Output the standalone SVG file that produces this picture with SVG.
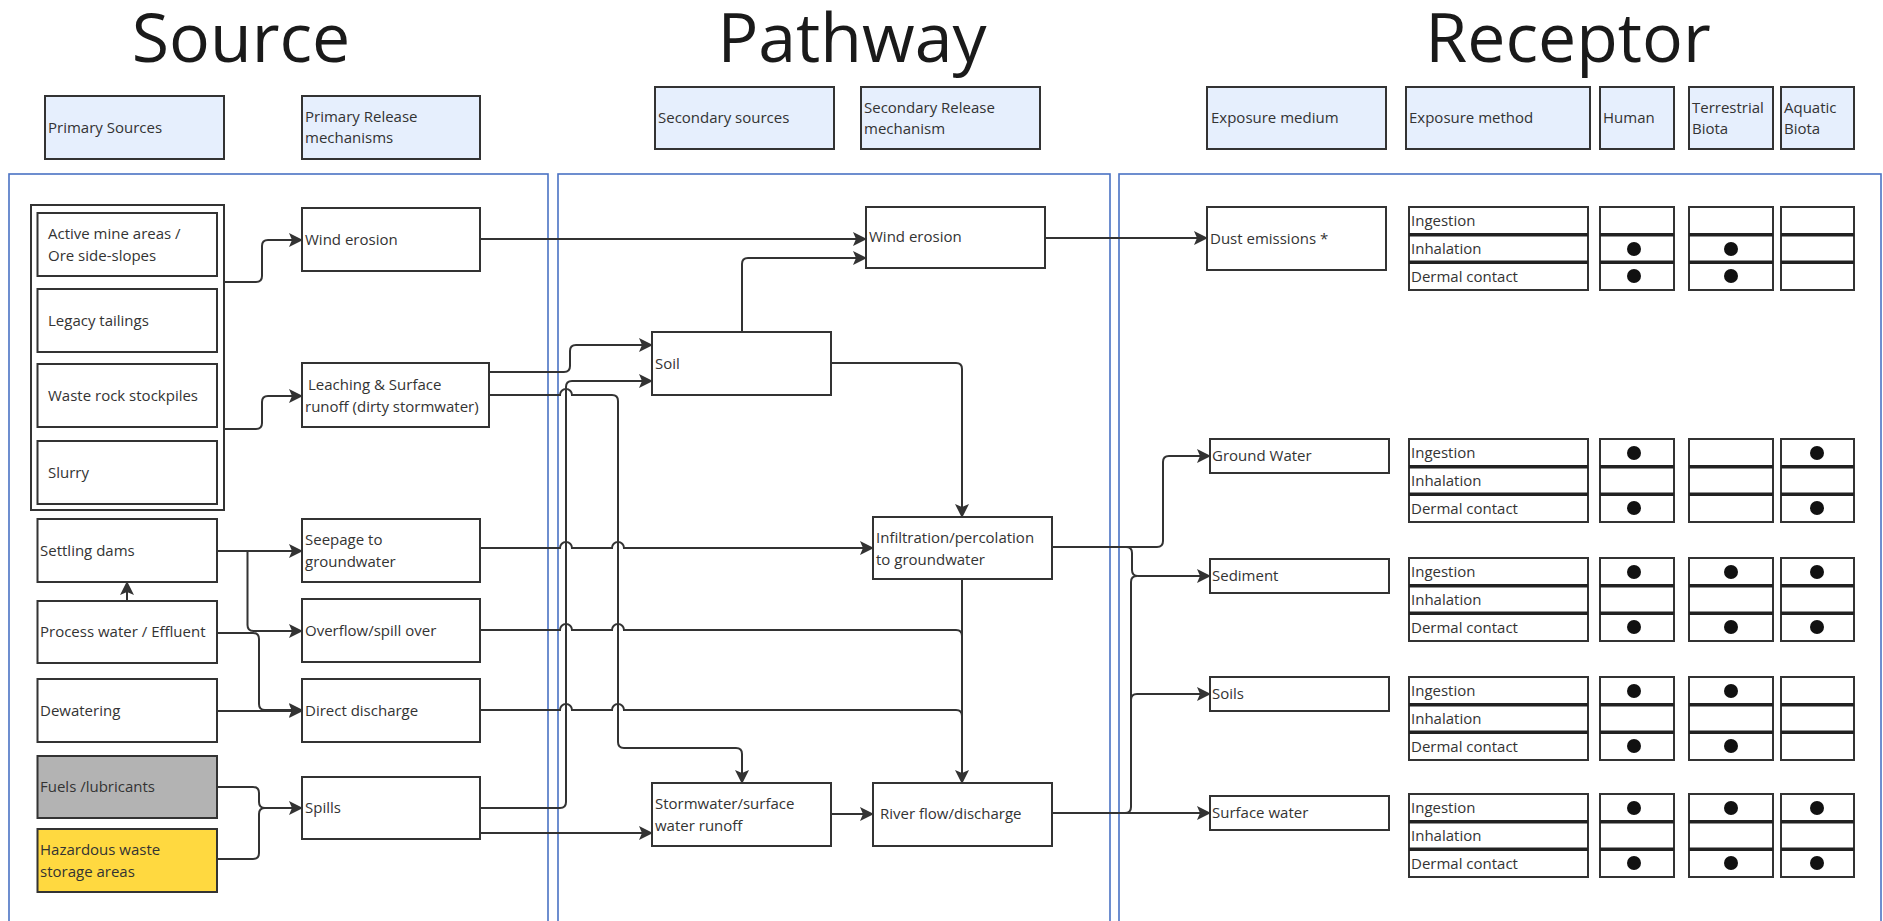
<svg xmlns="http://www.w3.org/2000/svg" width="1883" height="921" viewBox="0 0 1883 921">
<style>
.bg{fill:#ffffff}
.title{font-family:"Open Sans","Noto Sans",sans-serif;font-size:68px;fill:#1a1a1a;text-anchor:middle}
.t{font-family:"Open Sans","Noto Sans",sans-serif;font-size:15px;fill:#333333}
.box{fill:#ffffff;stroke:#333333;stroke-width:2}
.hdr{fill:#e6effd;stroke:#333333;stroke-width:2}
.cont{fill:none;stroke:#4a72c4;stroke-width:1.6}
.conn path{fill:none;stroke:#333333;stroke-width:2}
.sep{stroke:#222222;stroke-width:3.5}
.dot{fill:#111111}
</style>
<defs>
<marker id="arr" markerUnits="userSpaceOnUse" markerWidth="14" markerHeight="14" refX="13" refY="7" orient="auto">
<path d="M0,0 L14,7 L0,14 L3,7 Z" fill="#333333"/>
</marker>
<g id="tbl">
<rect class="box" x="0" y="0" width="179" height="83"/>
<line class="sep" x1="0" y1="27.7" x2="179" y2="27.7"/>
<line class="sep" x1="0" y1="55.3" x2="179" y2="55.3"/>
<text class="t" x="2" y="19">Ingestion</text>
<text class="t" x="2" y="47">Inhalation</text>
<text class="t" x="2" y="75">Dermal contact</text>
<rect class="box" x="191" y="0" width="74" height="83"/>
<line class="sep" x1="191" y1="27.7" x2="265" y2="27.7"/>
<line class="sep" x1="191" y1="55.3" x2="265" y2="55.3"/>
<rect class="box" x="280" y="0" width="84" height="83"/>
<line class="sep" x1="280" y1="27.7" x2="364" y2="27.7"/>
<line class="sep" x1="280" y1="55.3" x2="364" y2="55.3"/>
<rect class="box" x="372" y="0" width="73" height="83"/>
<line class="sep" x1="372" y1="27.7" x2="445" y2="27.7"/>
<line class="sep" x1="372" y1="55.3" x2="445" y2="55.3"/>
</g>
</defs>
<rect class="bg" x="0" y="0" width="1883" height="921"/>

<g id="titles">
<text class="title" x="241" y="62">Source</text>
<text class="title" x="852" y="62">Pathway</text>
<text class="title" x="1568" y="62">Receptor</text>
</g>

<g id="headers">
<g id="h-primary-sources"><rect class="hdr" x="45" y="96" width="179" height="63"/><text class="t" x="48" y="133">Primary Sources</text></g>
<g id="h-primary-release"><rect class="hdr" x="302" y="96" width="178" height="63"/><text class="t" x="305" y="122">Primary Release</text><text class="t" x="305" y="143">mechanisms</text></g>
<g id="h-secondary-sources"><rect class="hdr" x="655" y="87" width="179" height="62"/><text class="t" x="658" y="123">Secondary sources</text></g>
<g id="h-secondary-release"><rect class="hdr" x="861" y="87" width="179" height="62"/><text class="t" x="864" y="113">Secondary Release</text><text class="t" x="864" y="134">mechanism</text></g>
<g id="h-exposure-medium"><rect class="hdr" x="1207" y="87" width="179" height="62"/><text class="t" x="1211" y="123">Exposure medium</text></g>
<g id="h-exposure-method"><rect class="hdr" x="1406" y="87" width="184" height="62"/><text class="t" x="1409" y="123">Exposure method</text></g>
<g id="h-human"><rect class="hdr" x="1600" y="87" width="74" height="62"/><text class="t" x="1603" y="123">Human</text></g>
<g id="h-terrestrial"><rect class="hdr" x="1689" y="87" width="84" height="62"/><text class="t" x="1692" y="113">Terrestrial</text><text class="t" x="1692" y="134">Biota</text></g>
<g id="h-aquatic"><rect class="hdr" x="1781" y="87" width="73" height="62"/><text class="t" x="1784" y="113">Aquatic</text><text class="t" x="1784" y="134">Biota</text></g>
</g>

<g id="containers">
<rect class="cont" x="9" y="174" width="539" height="770"/>
<rect class="cont" x="558" y="174" width="552" height="770"/>
<rect class="cont" x="1119" y="174" width="762" height="770"/>
</g>

<g id="mine-sources"><rect class="box" x="31" y="205" width="193" height="305"/></g>
<g id="active-mine"><rect class="box" x="37.5" y="213" width="179.5" height="63"/><text class="t" x="48" y="239">Active mine areas /</text><text class="t" x="48" y="261">Ore side-slopes</text></g>
<g id="legacy-tailings"><rect class="box" x="37.5" y="289" width="179.5" height="63"/><text class="t" x="48" y="326">Legacy tailings</text></g>
<g id="waste-rock"><rect class="box" x="37.5" y="364" width="179.5" height="63"/><text class="t" x="48" y="401">Waste rock stockpiles</text></g>
<g id="slurry"><rect class="box" x="37.5" y="441" width="179.5" height="63"/><text class="t" x="48" y="478">Slurry</text></g>
<g id="settling-dams"><rect class="box" x="37.5" y="519" width="179.5" height="63"/><text class="t" x="40" y="556">Settling dams</text></g>
<g id="process-water"><rect class="box" x="37.5" y="601" width="179.5" height="62"/><text class="t" x="40" y="637">Process water / Effluent</text></g>
<g id="dewatering"><rect class="box" x="37.5" y="679" width="179.5" height="63"/><text class="t" x="40" y="716">Dewatering</text></g>
<g id="fuels"><rect class="box" x="37.5" y="756" width="179.5" height="62" style="fill:#b3b3b3"/><text class="t" x="40" y="792">Fuels /lubricants</text></g>
<g id="hazardous"><rect class="box" x="37.5" y="829" width="179.5" height="63" style="fill:#ffd940"/><text class="t" x="40" y="855">Hazardous waste</text><text class="t" x="40" y="877">storage areas</text></g>

<g id="wind-erosion-1"><rect class="box" x="302" y="208" width="178" height="63"/><text class="t" x="305" y="245">Wind erosion</text></g>
<g id="leaching"><rect class="box" x="302" y="363" width="187" height="64"/><text class="t" x="308" y="390">Leaching &amp; Surface</text><text class="t" x="305" y="412">runoff (dirty stormwater)</text></g>
<g id="seepage"><rect class="box" x="302" y="519" width="178" height="63"/><text class="t" x="305" y="545">Seepage to</text><text class="t" x="305" y="567">groundwater</text></g>
<g id="overflow"><rect class="box" x="302" y="599" width="178" height="63"/><text class="t" x="305" y="636">Overflow/spill over</text></g>
<g id="direct-discharge"><rect class="box" x="302" y="679" width="178" height="63"/><text class="t" x="305" y="716">Direct discharge</text></g>
<g id="spills"><rect class="box" x="302" y="777" width="178" height="62"/><text class="t" x="305" y="813">Spills</text></g>

<g id="soil"><rect class="box" x="652" y="332" width="179" height="63"/><text class="t" x="655" y="369">Soil</text></g>
<g id="wind-erosion-2"><rect class="box" x="866" y="207" width="179" height="61"/><text class="t" x="869" y="242">Wind erosion</text></g>
<g id="infiltration"><rect class="box" x="873" y="517" width="179" height="62"/><text class="t" x="876" y="543">Infiltration/percolation</text><text class="t" x="876" y="565">to groundwater</text></g>
<g id="stormwater"><rect class="box" x="652" y="783" width="179" height="63"/><text class="t" x="655" y="809">Stormwater/surface</text><text class="t" x="655" y="831">water runoff</text></g>
<g id="river-flow"><rect class="box" x="873" y="783" width="179" height="63"/><text class="t" x="880" y="819">River flow/discharge</text></g>

<g id="dust"><rect class="box" x="1207" y="207" width="179" height="63"/><text class="t" x="1210" y="244">Dust emissions *</text></g>
<g id="ground-water"><rect class="box" x="1210" y="439" width="179" height="34"/><text class="t" x="1212" y="461">Ground Water</text></g>
<g id="sediment"><rect class="box" x="1210" y="559" width="179" height="34"/><text class="t" x="1212" y="581">Sediment</text></g>
<g id="soils"><rect class="box" x="1210" y="677" width="179" height="34"/><text class="t" x="1212" y="699">Soils</text></g>
<g id="surface-water"><rect class="box" x="1210" y="796" width="179" height="34"/><text class="t" x="1212" y="818">Surface water</text></g>

<g id="table-dust"><use href="#tbl" x="1409" y="207"/>
<circle class="dot" cx="1634" cy="249" r="7"/><circle class="dot" cx="1634" cy="276" r="7"/>
<circle class="dot" cx="1731" cy="249" r="7"/><circle class="dot" cx="1731" cy="276" r="7"/></g>
<g id="table-gw"><use href="#tbl" x="1409" y="439"/>
<circle class="dot" cx="1634" cy="453" r="7"/><circle class="dot" cx="1634" cy="508" r="7"/>
<circle class="dot" cx="1817" cy="453" r="7"/><circle class="dot" cx="1817" cy="508" r="7"/></g>
<g id="table-sed"><use href="#tbl" x="1409" y="558"/>
<circle class="dot" cx="1634" cy="572" r="7"/><circle class="dot" cx="1634" cy="627" r="7"/>
<circle class="dot" cx="1731" cy="572" r="7"/><circle class="dot" cx="1731" cy="627" r="7"/>
<circle class="dot" cx="1817" cy="572" r="7"/><circle class="dot" cx="1817" cy="627" r="7"/></g>
<g id="table-soils"><use href="#tbl" x="1409" y="677"/>
<circle class="dot" cx="1634" cy="691" r="7"/><circle class="dot" cx="1634" cy="746" r="7"/>
<circle class="dot" cx="1731" cy="691" r="7"/><circle class="dot" cx="1731" cy="746" r="7"/></g>
<g id="table-sw"><use href="#tbl" x="1409" y="794"/>
<circle class="dot" cx="1634" cy="808" r="7"/><circle class="dot" cx="1634" cy="863" r="7"/>
<circle class="dot" cx="1731" cy="808" r="7"/><circle class="dot" cx="1731" cy="863" r="7"/>
<circle class="dot" cx="1817" cy="808" r="7"/><circle class="dot" cx="1817" cy="863" r="7"/></g>

<g class="conn" id="connectors">
<path d="M224,282 H256 Q262,282 262,276 V246 Q262,240 268,240 H302" marker-end="url(#arr)"/>
<path d="M224,429 H256 Q262,429 262,423 V402 Q262,396 268,396 H302" marker-end="url(#arr)"/>
<path d="M217,551 H302" marker-end="url(#arr)"/>
<path d="M247.5,551 V625 Q247.5,631 253.5,631 H302" marker-end="url(#arr)"/>
<path d="M217,633 H253 Q259,633 259,639 V704 Q259,710 265,710 H302" marker-end="url(#arr)"/>
<path d="M217,711 H302" marker-end="url(#arr)"/>
<path d="M217,787 H253 Q259,787 259,793 V802 Q259,808 265,808 H302" marker-end="url(#arr)"/>
<path d="M217,859 H253 Q259,859 259,853 V814 Q259,808 265,808"/>
<path d="M127,601 V582" marker-end="url(#arr)"/>
<path d="M480,239 H866" marker-end="url(#arr)"/>
<path d="M489,372 H564 Q570,372 570,366 V351 Q570,345 576,345 H652" marker-end="url(#arr)"/>
<path d="M480,808 H560 Q566,808 566,802 V387 Q566,381 572,381 H652" marker-end="url(#arr)"/>
<path d="M489,395 H560 A6,6 0 0 1 572,395 H612 Q618,395 618,401 V742 Q618,748 624,748 H736 Q742,748 742,754 V783" marker-end="url(#arr)"/>
<path d="M480,548 H560 A6,6 0 0 1 572,548 H612 A6,6 0 0 1 624,548 H873" marker-end="url(#arr)"/>
<path d="M480,630 H560 A6,6 0 0 1 572,630 H612 A6,6 0 0 1 624,630 H956 Q962,630 962,636"/>
<path d="M480,710 H560 A6,6 0 0 1 572,710 H612 A6,6 0 0 1 624,710 H956 Q962,710 962,716"/>
<path d="M962,579 V783" marker-end="url(#arr)"/>
<path d="M831,363 H956 Q962,363 962,369 V517" marker-end="url(#arr)"/>
<path d="M742,332 V264 Q742,258 748,258 H866" marker-end="url(#arr)"/>
<path d="M831,814 H873" marker-end="url(#arr)"/>
<path d="M480,833 H652" marker-end="url(#arr)"/>
<path d="M1045,238 H1207" marker-end="url(#arr)"/>
<path d="M1052,547 H1157 Q1163,547 1163,541 V462 Q1163,456 1169,456 H1210" marker-end="url(#arr)"/>
<path d="M1126,547 Q1132,547 1132,553 V570 Q1132,576 1138,576 H1210" marker-end="url(#arr)"/>
<path d="M1052,813 H1210" marker-end="url(#arr)"/>
<path d="M1125,813 Q1131,813 1131,807 V700 Q1131,694 1137,694 H1210" marker-end="url(#arr)"/>
<path d="M1131,700 V582 Q1131,576 1137,576"/>
</g>
</svg>
